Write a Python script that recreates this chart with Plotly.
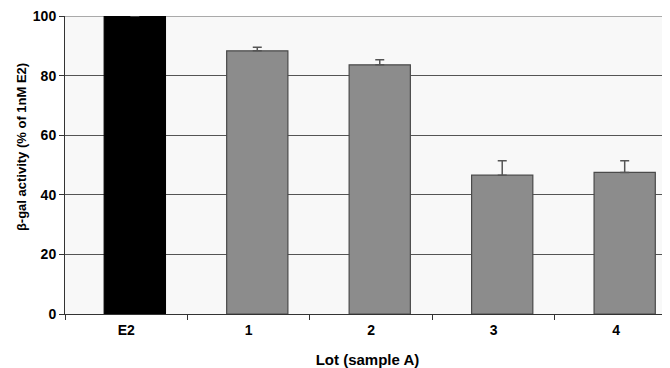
import plotly.graph_objects as go

categories = ["E2", "1", "2", "3", "4"]
values = [100, 88.3, 83.6, 46.6, 47.5]
errors = [0, 1.2, 1.7, 4.8, 3.9]
bar_colors = ["#000000", "#8c8c8c", "#8c8c8c", "#8c8c8c", "#8c8c8c"]
line_colors = ["#000000", "#4a4a4a", "#4a4a4a", "#4a4a4a", "#4a4a4a"]

font_family = "Liberation Sans, Arial, sans-serif"

fig = go.Figure()
fig.add_trace(go.Bar(
    x=categories,
    y=values,
    width=0.5,
    offset=-0.18,
    marker=dict(color=bar_colors, line=dict(color=line_colors, width=1.2)),
    error_y=dict(type="data", array=errors, symmetric=False, arrayminus=[0]*5,
                 color="#555555", thickness=1.5, width=4.5, visible=True),
    showlegend=False,
))

# light top border line (styling)
fig.add_shape(type="line", xref="paper", yref="y", x0=0, x1=1, y0=100, y1=100,
              line=dict(color="#aaaaaa", width=2), layer="between")

fig.add_annotation(
    text="<b>β-gal activity (% of 1nM E2)</b>",
    xref="paper", yref="paper", x=0, y=0.56, xshift=-44,
    xanchor="center", yanchor="middle", textangle=-90, showarrow=False,
    font=dict(size=13, family=font_family, color="#000000"),
)

# the page adds an 8px body margin, so the figure is 662x360
fig.update_layout(
    width=662, height=360,
    margin=dict(l=57, r=0, t=8, b=54),
    paper_bgcolor="white",
    plot_bgcolor="#f8f8f8",
    font=dict(family=font_family, color="#000000"),
    xaxis=dict(
        type="category",
        range=[-0.5, 4.44],
        tickson="boundaries",
        ticks="outside", ticklen=5, tickcolor="#333333",
        showline=True, linecolor="#333333", linewidth=1,
        showgrid=False,
        ticklabelstandoff=3,
        tickfont=dict(size=14, family=font_family, weight="bold"),
        title=dict(text="<b>Lot (sample A)</b>", font=dict(size=15, family=font_family), standoff=18),
    ),
    yaxis=dict(
        range=[0, 100],
        tickvals=[0, 20, 40, 60, 80, 100],
        ticks="outside", ticklen=5, tickcolor="#333333",
        showline=True, linecolor="#333333", linewidth=1,
        showgrid=True, gridcolor="#555555", gridwidth=1,
        zeroline=False,
        ticklabeloverflow="allow",
        tickfont=dict(size=14, family=font_family, weight="bold"),
    ),
)

fig.write_html("out.html")
